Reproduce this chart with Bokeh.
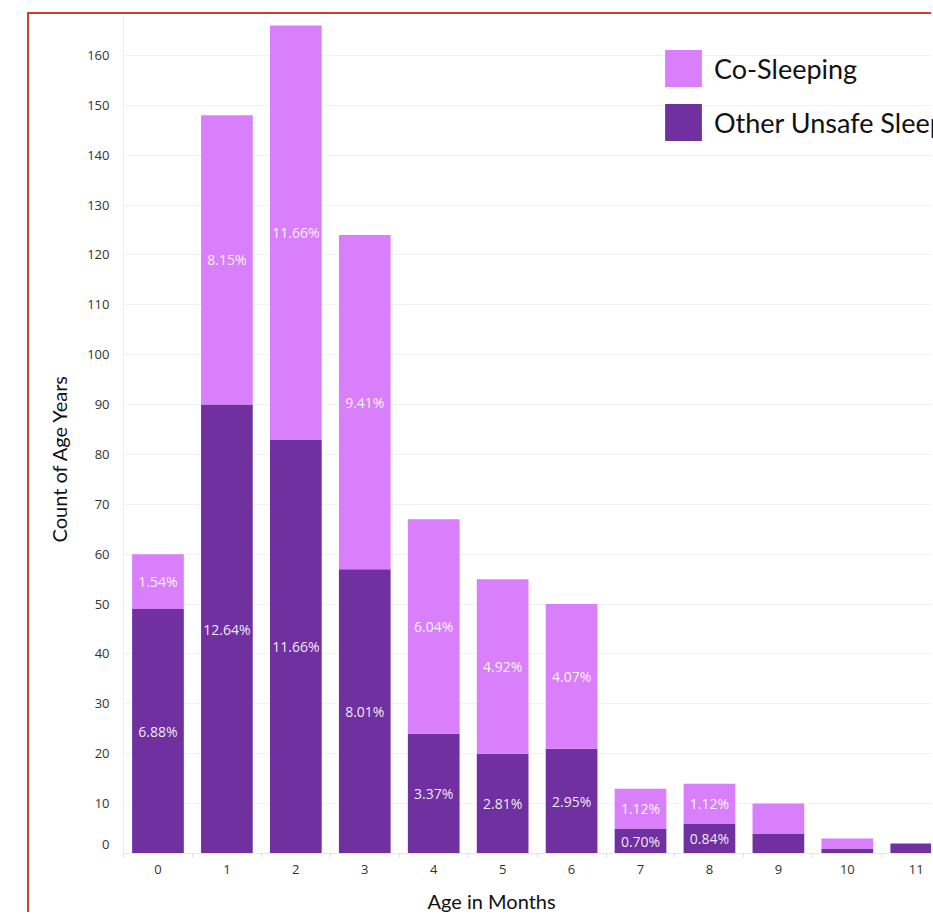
from bokeh.plotting import figure
from bokeh.models import Range1d, FixedTicker, Legend, LegendItem, Title, ColumnDataSource
from bokeh.core.properties import value
from bokeh.embed import file_html
from bokeh.resources import INLINE

# Infant deaths by age in months, split by sleep circumstance
months = list(range(12))
other_unsafe = [49, 90, 83, 57, 24, 20, 21, 5, 6, 4, 1, 2]
co_sleeping = [11, 58, 83, 67, 43, 35, 29, 8, 8, 6, 2, 0]
labelled_months = [0, 1, 2, 3, 4, 5, 6, 7, 8]
y_ticks = list(range(0, 170, 10))
series_names = ["Co-Sleeping", "Other Unsafe Sleep"]

LIGHT = "#d97ffb"
DARK = "#7030a0"
RED = "#cf3f30"

total = sum(other_unsafe) + sum(co_sleeping)


def pct(v, m):
    return f"{100 * v / total:.2f}%" if m in labelled_months else ""


src = ColumnDataSource(dict(
    x=months,
    other=other_unsafe,
    co=co_sleeping,
    top=[o + c for o, c in zip(other_unsafe, co_sleeping)],
    other_mid=[o / 2 for o in other_unsafe],
    co_mid=[o + c / 2 for o, c in zip(other_unsafe, co_sleeping)],
    other_lbl=[pct(o, m) for o, m in zip(other_unsafe, months)],
    co_lbl=[pct(c, m) for c, m in zip(co_sleeping, months)],
))

p = figure(width=904, height=900, output_backend="svg", toolbar_location=None,
           x_range=Range1d(-0.5, 11.25), y_range=Range1d(0, 168.2),
           min_border_left=94, min_border_right=0, min_border_top=0, min_border_bottom=0,
           outline_line_color=None, background_fill_color="white", border_fill_color="white",
           margin=(12, 0, 0, 27))
p.styles = {"border-top": f"2px solid {RED}", "border-left": f"2px solid {RED}"}

dark = p.vbar(x="x", bottom=0, top="other", width=0.75, source=src,
              fill_color=DARK, line_color=None)
light = p.vbar(x="x", bottom="other", top="top", width=0.75, source=src,
               fill_color=LIGHT, line_color=None)

for ycol, tcol in (("other_mid", "other_lbl"), ("co_mid", "co_lbl")):
    p.text(x="x", y=ycol, text=tcol, source=src, text_color="white", text_alpha=0.92,
           text_font=value("Open Sans"), text_font_size="14px",
           text_align="center", text_baseline="middle")

# axes
p.xaxis.ticker = FixedTicker(ticks=months, minor_ticks=[m - 0.5 for m in months] + [11.5])
p.xaxis.major_tick_line_color = None
p.xaxis.minor_tick_line_color = "#e0e0e0"
p.xaxis.minor_tick_out = 4
p.xaxis.minor_tick_in = 0
p.xaxis.axis_line_color = "#e6e6e6"
p.xaxis.major_label_text_font = "Open Sans"
p.xaxis.major_label_text_font_size = "13px"
p.xaxis.major_label_text_color = "#333333"
p.xaxis.major_label_standoff = 5

# the "0" label sits a little above the baseline, the others on their gridlines
zero_label_pos = 1.8
p.yaxis.ticker = FixedTicker(ticks=[zero_label_pos] + y_ticks[1:], minor_ticks=[])
p.yaxis.major_label_overrides = {zero_label_pos: "0"}
p.ygrid.ticker = FixedTicker(ticks=y_ticks[1:], minor_ticks=[])
p.yaxis.major_tick_line_color = None
p.yaxis.minor_tick_line_color = None
p.yaxis.axis_line_color = "#eeeeee"
p.yaxis.major_label_text_font = "Open Sans"
p.yaxis.major_label_text_font_size = "13px"
p.yaxis.major_label_text_color = "#333333"
p.yaxis.major_label_standoff = 8

p.xgrid.visible = False
p.ygrid.grid_line_color = "#f2f2f2"

# axis titles, centred on the whole chart rather than the plotting frame
p.add_layout(Title(text="Count of Age Years", align="left", offset=311, text_font="Lato",
                   text_font_size="20px", text_font_style="normal", text_color="#111111",
                   standoff=27), "left")
# a blank line of space between the month labels and the bottom title
p.add_layout(Title(text=" ", text_font_size="5px", standoff=0), "below")
p.add_layout(Title(text="Age in Months", align="left", offset=304, text_font="Lato",
                   text_font_size="20px", text_font_style="normal", text_color="#111111",
                   standoff=4), "below")

legend = Legend(items=[LegendItem(label=series_names[0], renderers=[light]),
                       LegendItem(label=series_names[1], renderers=[dark])],
                location=(537, 708), orientation="vertical",
                glyph_width=46, glyph_height=46, spacing=8, padding=0, margin=0,
                label_standoff=8, label_text_font="Lato", label_text_font_size="27px",
                label_text_color="#111111", label_text_baseline="middle",
                border_line_color=None, background_fill_alpha=0)
p.add_layout(legend)

open("out.html", "w").write(file_html(p, INLINE))
